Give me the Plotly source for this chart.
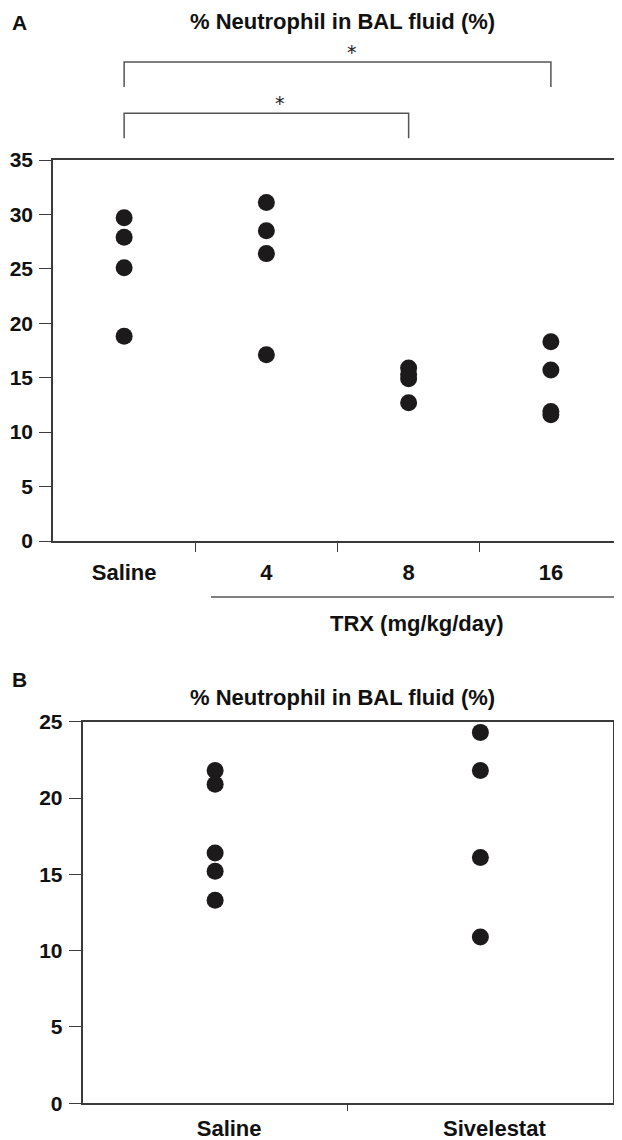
import plotly.graph_objects as go

# ---------------- data ----------------
cats_a = ["Saline", "4", "8", "16"]
saline_a = [29.7, 27.9, 25.1, 18.8]
trx4_a = [31.1, 28.5, 26.4, 17.1]
trx8_a = [15.9, 15.3, 14.9, 12.7]
trx16_a = [18.3, 15.7, 11.9, 11.6]
yticks_a = [0, 5, 10, 15, 20, 25, 30, 35]

cats_b = ["Saline", "Sivelestat"]
saline_b = [21.8, 20.9, 16.4, 15.2, 13.3]
sivelestat_b = [24.3, 21.8, 16.1, 10.9]
yticks_b = [0, 5, 10, 15, 20, 25]

# significance comparisons (category index pairs, bracket height in data units)
brackets = [(0, 2, 39.3, 37.0), (0, 3, 44.0, 41.7)]

title_txt = "% Neutrophil in BAL fluid (%)"
xgroup_txt = "TRX (mg/kg/day)"

# ---------------- layout geometry ----------------
PAGE_W, PAGE_H = 622, 1140
OFF = 8  # default body margin of the html page
W, H = PAGE_W - OFF, PAGE_H - OFF


def px(x):
    return (x - OFF) / W


def py(y):
    return 1 - (y - OFF) / H


domA_x = [px(53), px(622)]
domA_y = [py(541), py(160)]
domB_x = [px(82.5), px(613)]
domB_y = [py(1103.3), py(721.7)]
yA_max = 35
yB_max = 25


def ya_paper(v):
    return domA_y[0] + v / yA_max * (domA_y[1] - domA_y[0])


FONT = "Liberation Sans, Arial, sans-serif"
DOT = "#1c1a1b"
AX = "#3a3a3a"

fig = go.Figure()

groups_a = [saline_a, trx4_a, trx8_a, trx16_a]
for i, vals in enumerate(groups_a):
    fig.add_trace(go.Scatter(
        x=[i] * len(vals), y=vals, mode="markers", name=cats_a[i],
        marker=dict(size=17, color=DOT, line=dict(width=0)),
        xaxis="x", yaxis="y", showlegend=False, cliponaxis=False))

for i, vals in enumerate([saline_b, sivelestat_b]):
    fig.add_trace(go.Scatter(
        x=[i] * len(vals), y=vals, mode="markers", name=cats_b[i],
        marker=dict(size=17, color=DOT, line=dict(width=0)),
        xaxis="x2", yaxis="y2", showlegend=False, cliponaxis=False))

tickfont = dict(family=FONT, size=21, color="#111", weight="bold")
xtickfont = dict(family=FONT, size=22, color="#111", weight="bold")

bounds_a = [i + 0.5 for i in range(len(cats_a) - 1)]
bounds_b = [i + 0.5 for i in range(len(cats_b) - 1)]

fig.update_layout(
    width=W, height=H,
    margin=dict(l=0, r=0, t=0, b=0, autoexpand=False),
    paper_bgcolor="white", plot_bgcolor="white",
    font=dict(family=FONT, color="#111"),
    xaxis=dict(domain=domA_x, anchor="y",
               range=[-0.5, len(cats_a) - 0.5],
               tickvals=list(range(len(cats_a))), ticktext=cats_a,
               showline=True, linecolor=AX, linewidth=1.5, mirror=True,
               ticks="", tickfont=xtickfont, ticklabelstandoff=11,
               minor=dict(tickvals=bounds_a, ticks="outside", ticklen=9,
                          tickwidth=1.3, tickcolor=AX, showgrid=False),
               automargin=False, showgrid=False, zeroline=False),
    yaxis=dict(domain=domA_y, anchor="x", range=[0, yA_max],
               tickvals=yticks_a, automargin=False,
               showline=True, linecolor=AX, linewidth=1.5,
               ticks="outside", ticklen=12, tickwidth=1.3, tickcolor=AX,
               tickfont=tickfont, ticklabelstandoff=2,
               showgrid=False, zeroline=False),
    xaxis2=dict(domain=domB_x, anchor="y2",
                range=[-0.5, len(cats_b) - 0.5],
                tickvals=list(range(len(cats_b))), ticktext=cats_b,
                showline=True, linecolor=AX, linewidth=1.5, mirror=True,
                ticks="", tickfont=xtickfont, ticklabelstandoff=5,
                ticklabelshift=14,
                minor=dict(tickvals=bounds_b, ticks="outside", ticklen=6,
                           tickwidth=1.3, tickcolor=AX, showgrid=False),
                automargin=False, showgrid=False, zeroline=False),
    yaxis2=dict(domain=domB_y, anchor="x2", range=[0, yB_max],
                tickvals=yticks_b, automargin=False,
                showline=True, linecolor=AX, linewidth=1.5, mirror=True,
                ticks="outside", ticklen=12, tickwidth=1.3, tickcolor=AX,
                tickfont=tickfont, ticklabelstandoff=2,
                showgrid=False, zeroline=False),
)

# significance brackets
for i0, i1, top, leg in brackets:
    fig.add_shape(type="path", xref="x", yref="paper",
                  path=f"M {i0},{ya_paper(leg)} L {i0},{ya_paper(top)} "
                       f"L {i1},{ya_paper(top)} L {i1},{ya_paper(leg)}",
                  line=dict(color="#555", width=1.5))
    fig.add_annotation(x=(i0 + i1) / 2, y=ya_paper(top), xref="x", yref="paper",
                       text="*", showarrow=False, xshift=14, yshift=10,
                       xanchor="center", yanchor="middle",
                       font=dict(family="DejaVu Sans", size=19, color="#222"))

# TRX group line and label
fig.add_shape(type="line", xref="paper", yref="paper",
              x0=px(211), x1=px(619), y0=py(597), y1=py(597),
              line=dict(color="#555", width=1.5))
fig.add_annotation(x=px(417), y=py(623), xref="paper", yref="paper",
                   xanchor="center", yanchor="middle",
                   text=f"<b>{xgroup_txt}</b>", showarrow=False,
                   font=dict(family=FONT, size=22, color="#111"))

# titles and panel letters
for ty in (22, 697):
    fig.add_annotation(x=px(342), y=py(ty), xref="paper", yref="paper",
                       xanchor="center", yanchor="middle",
                       text=f"<b>{title_txt}</b>", showarrow=False,
                       font=dict(family=FONT, size=22, color="#111"))
for letter, ly in (("A", 23), ("B", 679)):
    fig.add_annotation(x=px(19), y=py(ly), xref="paper", yref="paper",
                       xanchor="center", yanchor="middle",
                       text=f"<b>{letter}</b>", showarrow=False,
                       font=dict(family=FONT, size=21, color="#111"))

fig.write_html("out.html")
